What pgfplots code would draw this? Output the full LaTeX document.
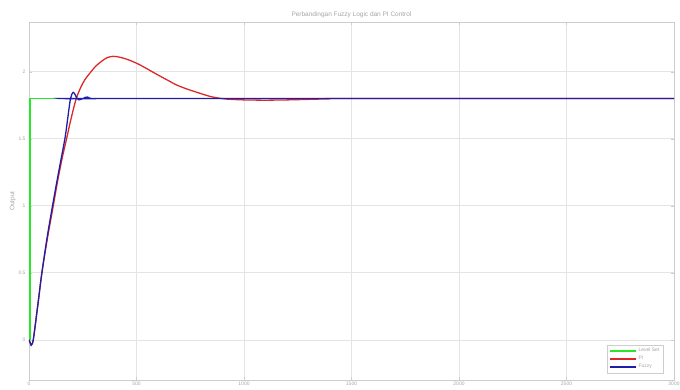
\documentclass[border=0pt]{standalone}
\usepackage{pgfplots}
\pgfplotsset{compat=1.18}
\usepackage{fontspec}
\setmainfont{Liberation Sans}
\definecolor{lsgreen}{RGB}{40,230,40}
\definecolor{pired}{RGB}{220,40,40}
\definecolor{fzblue}{RGB}{30,30,170}
\definecolor{txtgray}{RGB}{165,165,165}
\definecolor{gridgray}{RGB}{228,228,228}
\definecolor{boxgray}{RGB}{205,205,205}
\begin{document}
\begin{tikzpicture}
\useasboundingbox (-29bp,-10bp) rectangle (651bp,380bp);
\begin{axis}[
  scale only axis,
  width=645bp, height=358bp,
  xmin=0, xmax=3000, ymin=-0.3, ymax=2.37,
  xtick={0,500,...,3000}, ytick={0,0.5,1,1.5,2},
  yticklabels={0,0.5,1,1.5,2},
  xticklabels={0,500,1000,1500,2000,2500,3000},
  grid=major, major grid style={gridgray, line width=0.5pt},
  axis line style={boxgray, line width=0.5pt},
  tick style={boxgray}, tick align=inside, major tick length=3bp,
  ticklabel style={font=\fontsize{5}{6}\selectfont, text=txtgray},
  xticklabel style={yshift=1bp},
  title={Perbandingan Fuzzy Logic dan PI Control},
  title style={font=\fontsize{6.5}{7}\selectfont, text=txtgray, yshift=-5bp},
  ylabel={Output},
  ylabel style={font=\fontsize{6.5}{7}\selectfont, text=txtgray, yshift=-4bp},
  legend cell align=left,
  legend style={at={(1,0)}, anchor=south east, xshift=-11bp, yshift=7bp,
    font=\fontsize{5}{6}\selectfont, text=txtgray, draw=boxgray,
    inner sep=1.5pt, row sep=-1pt},
  legend image code/.code={\draw[#1] (0bp,0bp) -- (26bp,0bp);},
]
\addlegendimage{color=lsgreen, line width=1.5pt}
\addlegendentry{Level Set}
\addlegendimage{color=pired, line width=1.5pt}
\addlegendentry{PI}
\addlegendimage{color=fzblue, line width=1.5pt}
\addlegendentry{Fuzzy}
\addplot[color=lsgreen, line width=1.3pt, forget plot] coordinates {(0,0) (5,0) (5,1.8) (3000,1.8)};
\addplot[color=pired, line width=1.3pt, smooth, tension=0.5, forget plot] coordinates {
(0,0) (5,-0.02) (10,-0.04) (15,-0.03) (20,0.0) (30,0.12) (45,0.31) (60,0.5)
(85,0.75) (113,1.0) (135,1.2) (155,1.36) (175,1.5) (190,1.61) (205,1.71)
(220,1.8) (240,1.88) (260,1.94) (284,1.99) (310,2.04) (340,2.08) (365,2.105)
(392,2.114) (420,2.108) (450,2.095) (480,2.077) (516,2.05) (550,2.02)
(594,1.98) (640,1.94) (687,1.90) (735,1.87) (780,1.846) (842,1.815)
(880,1.803) (920,1.795) (1000,1.789) (1100,1.787) (1200,1.789) (1300,1.793)
(1400,1.797) (1500,1.8) (3000,1.8)};
\addplot[color=fzblue, line width=1.3pt, smooth, tension=0.5, forget plot] coordinates {
(0,0) (5,-0.02) (10,-0.04) (15,-0.03) (20,0.0) (30,0.12) (45,0.31) (60,0.5)
(85,0.77) (115,1.05) (140,1.27) (167,1.5) (180,1.65) (191,1.78) (199,1.83)
(206,1.845) (214,1.83) (222,1.805) (230,1.79) (240,1.792) (252,1.80)
(262,1.808) (272,1.81) (282,1.803) (292,1.798) (305,1.8) (3000,1.8)};
\end{axis}
\end{tikzpicture}
\end{document}
